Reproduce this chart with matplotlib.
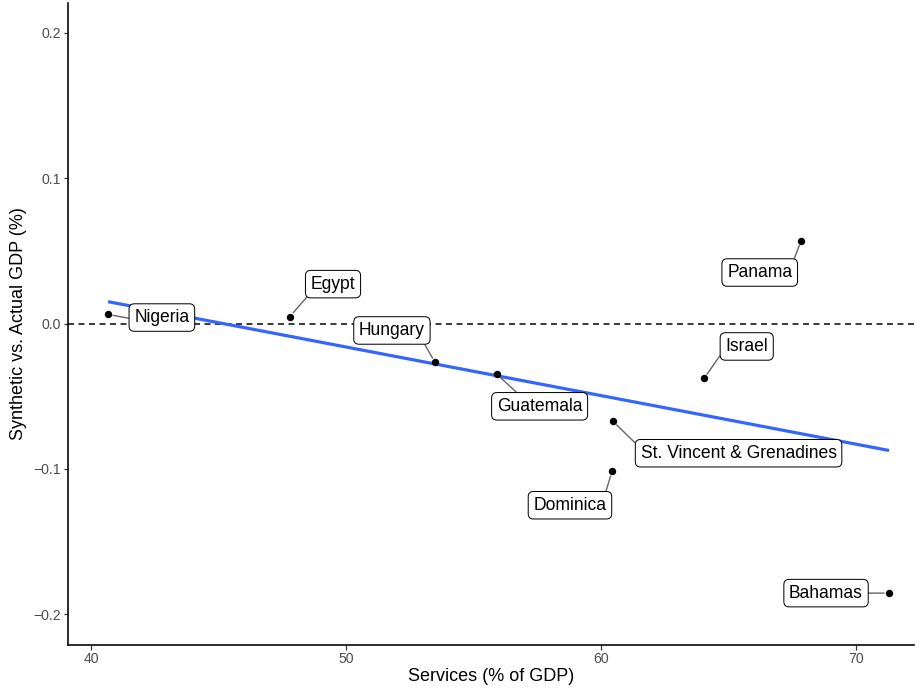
import numpy as np
import matplotlib.pyplot as plt

plt.rcParams['font.family'] = ['Liberation Sans', 'DejaVu Sans']

countries = ['Nigeria', 'Egypt', 'Hungary', 'Guatemala', 'St. Vincent & Grenadines',
             'Dominica', 'Israel', 'Panama', 'Bahamas']
services = [40.67, 47.80, 53.49, 55.92, 60.47, 60.43, 64.04, 67.84, 71.29]
gap = [0.0062, 0.0048, -0.0268, -0.0350, -0.0674, -0.1017, -0.0378, 0.0570, -0.1856]

# where each repelled label sits, plus the side of the box the leader attaches to
label_xy = [(42.78, 0.0041), (49.49, 0.0271), (51.80, -0.0048), (57.59, -0.0570),
            (65.39, -0.0893), (58.78, -0.1251), (65.71, -0.0158), (66.22, 0.0351),
            (68.82, -0.1856)]
relpos = [(0, 0.4), (0, 0), (0.95, 0), (0.3, 1), (0, 0.8), (0.97, 1), (0, 0.42),
          (1, 1), (1, 0.5)]

fig = plt.figure(figsize=(919 / 72, 691 / 72), dpi=72)
ax = fig.add_axes([0.074, 0.0666, 0.9206, 0.929])

ax.axhline(0, color='black', lw=1.5, ls=(0, (4, 3)), zorder=1)

# linear fit
b, a = np.polyfit(services, gap, 1)
xs = np.array([min(services), max(services)])
ax.plot(xs, a + b * xs, color='#3366FF', lw=3.2, zorder=2, solid_capstyle='butt')

ax.scatter(services, gap, s=55, color='black', zorder=4, linewidths=0)

for name, x, y, (lx, ly), rp in zip(countries, services, gap, label_xy, relpos):
    ax.annotate(name, xy=(x, y), xytext=(lx, ly), fontsize=17.5, color='black',
                ha='center', va='center', zorder=5,
                bbox=dict(boxstyle='round,pad=0.3,rounding_size=0.3', fc='white',
                          ec='black', lw=1.0),
                arrowprops=dict(arrowstyle='-', color='#666666', lw=1.4,
                                shrinkA=0, shrinkB=5, relpos=rp))

ax.set_xlim(39.1, 72.27)
ax.set_ylim(-0.2213, 0.2206)
ax.set_xticks([40, 50, 60, 70])
ax.set_yticks([-0.2, -0.1, 0.0, 0.1, 0.2])
ax.set_yticklabels(['\u22120.2', '\u22120.1', '0.0', '0.1', '0.2'])

for side in ['top', 'right']:
    ax.spines[side].set_visible(False)
for side in ['left', 'bottom']:
    ax.spines[side].set_linewidth(1.6)
ax.tick_params(length=4.5, width=1.2, color='#333333', labelcolor='#4D4D4D',
               labelsize=14, pad=3)

ax.set_xlabel('Services (% of GDP)', fontsize=18, labelpad=2)
ax.set_ylabel('Synthetic vs. Actual GDP (%)', fontsize=18, labelpad=6)

fig.savefig('out.png', dpi=72)
